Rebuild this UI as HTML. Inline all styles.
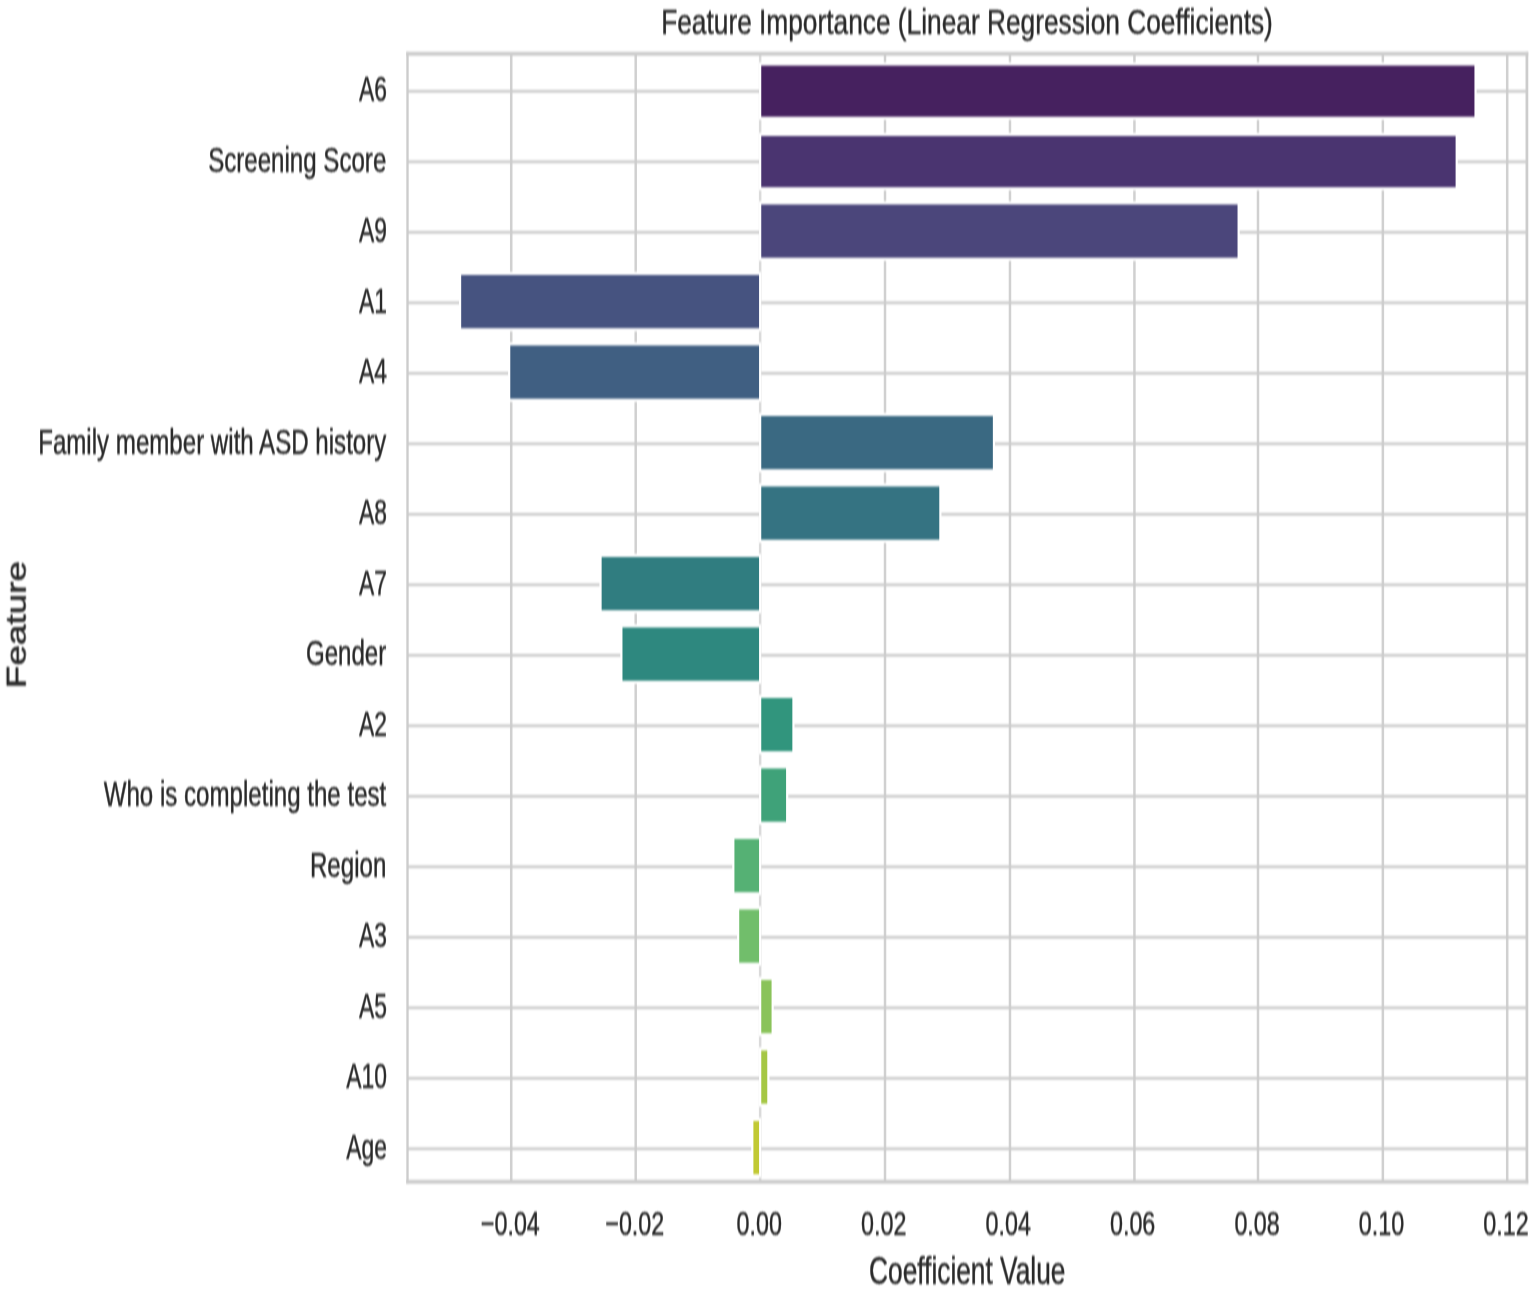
<!DOCTYPE html>
<html lang="en"><head><meta charset="utf-8">
<title>Feature Importance (Linear Regression Coefficients)</title>
<style>
html,body{margin:0;padding:0;background:#fff;}
body{width:1535px;height:1291px;overflow:hidden;}
svg{display:block;}
text{font-family:"Liberation Sans", Arial, Helvetica, sans-serif;fill:#2a2a2a;stroke:#2a2a2a;stroke-width:0.16px;stroke-linejoin:round;}
.tk,.ts{font-size:11px;}
.xt{font-size:11px;}
.lb,.xl,.yl{font-size:12px;}
.yl{stroke-width:0.24px;}
</style></head><body>
<svg width="1535" height="1291" viewBox="0 0 1535 1291">
<defs><filter id="soft" x="0" y="0" width="1535" height="1291" filterUnits="userSpaceOnUse" color-interpolation-filters="sRGB"><feGaussianBlur stdDeviation="0.6 0.8"/></filter></defs>
<g filter="url(#soft)">
<rect x="-20" y="-20" width="1575" height="1331" fill="#ffffff"/>
<g fill="#d0d0d0">
<rect x="509.98" y="53.8" width="2.5" height="1128"/>
<rect x="634.44" y="53.8" width="2.5" height="1128"/>
<rect x="758.9" y="53.8" width="2.5" height="1128" fill="#dadada"/>
<rect x="883.76" y="53.8" width="2.5" height="1128"/>
<rect x="1008.72" y="53.8" width="2.5" height="1128"/>
<rect x="1133.18" y="53.8" width="2.5" height="1128"/>
<rect x="1256.74" y="53.8" width="2.5" height="1128"/>
<rect x="1381.6" y="53.8" width="2.5" height="1128"/>
<rect x="1505.96" y="53.8" width="2.5" height="1128"/>
</g>
<g fill="#cccccc">
<rect x="407.5" y="89.9" width="1119.4" height="2.8"/>
<rect x="407.5" y="160.4" width="1119.4" height="2.8"/>
<rect x="407.5" y="230.9" width="1119.4" height="2.8"/>
<rect x="407.5" y="301.4" width="1119.4" height="2.8"/>
<rect x="407.5" y="371.9" width="1119.4" height="2.8"/>
<rect x="407.5" y="442.4" width="1119.4" height="2.8"/>
<rect x="407.5" y="512.9" width="1119.4" height="2.8"/>
<rect x="407.5" y="583.4" width="1119.4" height="2.8"/>
<rect x="407.5" y="653.9" width="1119.4" height="2.8"/>
<rect x="407.5" y="724.4" width="1119.4" height="2.8"/>
<rect x="407.5" y="794.9" width="1119.4" height="2.8"/>
<rect x="407.5" y="865.4" width="1119.4" height="2.8"/>
<rect x="407.5" y="935.9" width="1119.4" height="2.8"/>
<rect x="407.5" y="1006.4" width="1119.4" height="2.8"/>
<rect x="407.5" y="1076.9" width="1119.4" height="2.8"/>
<rect x="407.5" y="1147.4" width="1119.4" height="2.8"/>
</g>
<g>
<rect x="759.05" y="62.42" width="717.59" height="57.46" fill="#ffffff"/>
<rect x="761.25" y="65.58" width="713.2" height="51.14" fill="#46215f"/>
<rect x="759.05" y="132.82" width="698.73" height="57.56" fill="#ffffff"/>
<rect x="761.25" y="135.98" width="694.35" height="51.24" fill="#4a3470"/>
<rect x="759.05" y="201.32" width="480.68" height="59.56" fill="#ffffff"/>
<rect x="761.25" y="204.48" width="476.29" height="53.24" fill="#4b467b"/>
<rect x="458.98" y="271.82" width="302.26" height="59.56" fill="#ffffff"/>
<rect x="461.17" y="274.98" width="297.88" height="53.24" fill="#465380"/>
<rect x="508.08" y="342.32" width="253.17" height="59.56" fill="#ffffff"/>
<rect x="510.27" y="345.48" width="248.78" height="53.24" fill="#405f82"/>
<rect x="759.05" y="412.82" width="235.99" height="59.56" fill="#ffffff"/>
<rect x="761.25" y="415.98" width="231.61" height="53.24" fill="#3a6982"/>
<rect x="759.05" y="483.32" width="182.41" height="59.56" fill="#ffffff"/>
<rect x="761.25" y="486.48" width="178.03" height="53.24" fill="#357382"/>
<rect x="599.43" y="553.82" width="161.81" height="59.56" fill="#ffffff"/>
<rect x="601.63" y="556.98" width="157.43" height="53.24" fill="#307d80"/>
<rect x="620.28" y="624.32" width="140.96" height="59.56" fill="#ffffff"/>
<rect x="622.47" y="627.48" width="136.58" height="53.24" fill="#2e887f"/>
<rect x="759.05" y="694.82" width="35.48" height="59.56" fill="#ffffff"/>
<rect x="761.25" y="697.98" width="31.1" height="53.24" fill="#31957d"/>
<rect x="759.05" y="765.32" width="29.2" height="59.56" fill="#ffffff"/>
<rect x="761.25" y="768.48" width="24.82" height="53.24" fill="#3fa279"/>
<rect x="732.23" y="835.82" width="29.01" height="59.56" fill="#ffffff"/>
<rect x="734.42" y="838.98" width="24.63" height="53.24" fill="#55b174"/>
<rect x="737.02" y="906.32" width="24.22" height="59.56" fill="#ffffff"/>
<rect x="739.22" y="909.48" width="19.84" height="53.24" fill="#71be6b"/>
<rect x="759.05" y="976.82" width="14.7" height="59.56" fill="#ffffff"/>
<rect x="761.25" y="979.98" width="10.32" height="53.24" fill="#8ac35a"/>
<rect x="759.05" y="1047.32" width="10.41" height="59.56" fill="#ffffff"/>
<rect x="761.25" y="1050.48" width="6.02" height="53.24" fill="#a5c744"/>
<rect x="751.21" y="1117.82" width="10.03" height="59.56" fill="#ffffff"/>
<rect x="753.4" y="1120.98" width="5.65" height="53.24" fill="#c1c933"/>
</g>
<g fill="#cccccc">
<rect x="406.32" y="51.83" width="2.35" height="1131.95"/>
<rect x="1525.53" y="51.83" width="2.74" height="1131.95"/>
<rect x="406.32" y="51.83" width="1121.94" height="3.95"/>
<rect x="406.32" y="1179.83" width="1121.94" height="3.95"/>
</g>
<g>
<text class="lb" text-anchor="middle" transform="translate(967 33.5) scale(2.1916 2.907)">Feature Importance (Linear Regression Coefficients)</text>
<text class="ts" text-anchor="end" transform="translate(386.9 101.2) scale(2.08 3.11)">A6</text>
<text class="tk" text-anchor="end" transform="translate(386.3 171.7) scale(2.1916 3.11)">Screening Score</text>
<text class="ts" text-anchor="end" transform="translate(386.9 242.2) scale(2.08 3.11)">A9</text>
<text class="ts" text-anchor="end" transform="translate(386.9 312.7) scale(2.08 3.11)">A1</text>
<text class="ts" text-anchor="end" transform="translate(386.9 383.2) scale(2.08 3.11)">A4</text>
<text class="tk" text-anchor="end" transform="translate(386.3 453.7) scale(2.1916 3.11)">Family member with ASD history</text>
<text class="ts" text-anchor="end" transform="translate(386.9 524.2) scale(2.08 3.11)">A8</text>
<text class="ts" text-anchor="end" transform="translate(386.9 594.7) scale(2.08 3.11)">A7</text>
<text class="tk" text-anchor="end" transform="translate(386.3 665.2) scale(2.1916 3.11)">Gender</text>
<text class="ts" text-anchor="end" transform="translate(386.9 735.7) scale(2.08 3.11)">A2</text>
<text class="tk" text-anchor="end" transform="translate(386.3 806.2) scale(2.1916 3.11)">Who is completing the test</text>
<text class="tk" text-anchor="end" transform="translate(386.3 876.7) scale(2.1916 3.11)">Region</text>
<text class="ts" text-anchor="end" transform="translate(386.9 947.2) scale(2.08 3.11)">A3</text>
<text class="ts" text-anchor="end" transform="translate(386.9 1017.7) scale(2.08 3.11)">A5</text>
<text class="ts" text-anchor="end" transform="translate(386.9 1088.2) scale(2.08 3.11)">A10</text>
<text class="ts" text-anchor="end" transform="translate(386.9 1158.7) scale(2.08 3.11)">Age</text>
<text class="xt" text-anchor="middle" transform="translate(510.33 1234.8) scale(2.12 3.065)">−0.04</text>
<text class="xt" text-anchor="middle" transform="translate(634.79 1234.8) scale(2.12 3.065)">−0.02</text>
<text class="xt" text-anchor="middle" transform="translate(759.25 1234.8) scale(2.12 3.065)">0.00</text>
<text class="xt" text-anchor="middle" transform="translate(883.71 1234.8) scale(2.12 3.065)">0.02</text>
<text class="xt" text-anchor="middle" transform="translate(1008.17 1234.8) scale(2.12 3.065)">0.04</text>
<text class="xt" text-anchor="middle" transform="translate(1132.63 1234.8) scale(2.12 3.065)">0.06</text>
<text class="xt" text-anchor="middle" transform="translate(1257.09 1234.8) scale(2.12 3.065)">0.08</text>
<text class="xt" text-anchor="middle" transform="translate(1381.55 1234.8) scale(2.12 3.065)">0.10</text>
<text class="xt" text-anchor="middle" transform="translate(1506.01 1234.8) scale(2.12 3.065)">0.12</text>
<text class="xl" text-anchor="middle" transform="translate(967.2 1283.9) scale(2.1916 3.16)">Coefficient Value</text>
<text class="yl" text-anchor="middle" transform="translate(25.6 624.6) scale(2.33 3.08) rotate(-90)">Feature</text>
</g>
</g>
</svg>
</body></html>
